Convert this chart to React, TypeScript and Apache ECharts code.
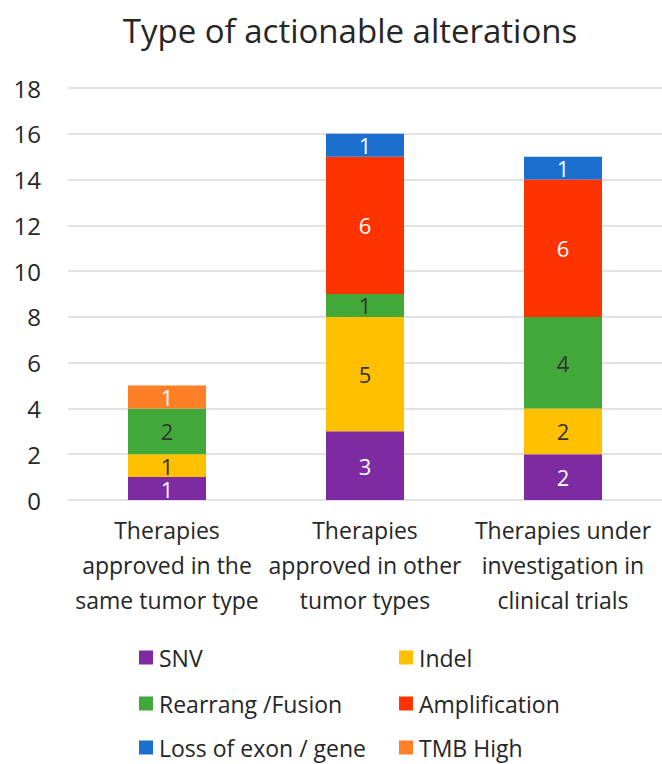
import React, { useEffect, useRef } from "react";
import * as echarts from "echarts";

const categories = [
  "Therapies\napproved in the\nsame tumor type",
  "Therapies\napproved in other\ntumor types",
  "Therapies under\ninvestigation in\nclinical trials",
];
const seriesNames = ["SNV", "Indel", "Rearrang /Fusion", "Amplification", "Loss of exon / gene", "TMB High"];
const snv = [1, 3, 2];
const indel = [1, 5, 2];
const rearrang = [2, 1, 4];
const amplification = [0, 6, 6];
const lossOfExon = [0, 1, 1];
const tmbHigh = [1, 0, 0];
const yTicks = [0, 2, 4, 6, 8, 10, 12, 14, 16, 18];

const seriesValues = [snv, indel, rearrang, amplification, lossOfExon, tmbHigh];
const colors = ["#7E2AA3", "#FFC000", "#43A83A", "#FF3300", "#1A6FCF", "#FF7F27"];
const labelColors = ["#ffffff", "#333333", "#333333", "#ffffff", "#ffffff", "#ffffff"];
const FONT = "Open Sans";

export default function App() {
  const ref = useRef<HTMLDivElement>(null);
  useEffect(() => {
    if (!ref.current) return;
    const chart = echarts.init(ref.current, null, { renderer: "svg" });
    const legendPos = [
      { left: 139, top: 646 },
      { left: 399, top: 646 },
      { left: 139, top: 692 },
      { left: 399, top: 692 },
      { left: 139, top: 736 },
      { left: 399, top: 736 },
    ];
    chart.setOption({
      animation: false,
      textStyle: { fontFamily: FONT },
      title: {
        text: "Type of actionable alterations",
        left: 345,
        textAlign: "center",
        top: 9,
        textStyle: { fontSize: 33, fontWeight: "normal", color: "#262626", fontFamily: FONT },
      },
      legend: seriesNames.map((n, i) => ({
        data: [n],
        left: legendPos[i].left,
        top: legendPos[i].top,
        icon: "rect",
        itemWidth: 14,
        itemHeight: 14,
        itemGap: 0,
        padding: 0,
        textStyle: { fontSize: 23, color: "#262626", fontFamily: FONT, padding: [0, 0, 0, 1] },
        selectedMode: false,
      })),
      grid: { left: 68, right: 0, top: 88, bottom: 264 },
      xAxis: {
        type: "category",
        data: categories,
        axisLine: { show: false },
        axisTick: { show: false },
        axisLabel: {
          fontSize: 23,
          color: "#262626",
          lineHeight: 35,
          margin: 12,
          interval: 0,
          fontFamily: FONT,
        },
      },
      yAxis: {
        type: "value",
        min: yTicks[0],
        max: yTicks[yTicks.length - 1],
        interval: 2,
        axisLine: { show: false },
        axisTick: { show: false },
        axisLabel: { fontSize: 24, color: "#262626", margin: 27, fontFamily: FONT },
        splitLine: { lineStyle: { color: "#D9D9D9", width: 1.5 } },
      },
      series: seriesNames.map((n, i) => ({
        name: n,
        type: "bar",
        stack: "total",
        barWidth: 78,
        data: seriesValues[i],
        itemStyle: { color: colors[i] },
        label: {
          show: true,
          position: "inside",
          fontSize: 22,
          color: labelColors[i],
          fontFamily: FONT,
          formatter: (p: any) => (p.value ? String(p.value) : ""),
        },
      })),
    });
    return () => chart.dispose();
  }, []);
  return <div ref={ref} style={{ width: 662, height: 764, position: "absolute", left: 0, top: 0 }} />;
}
